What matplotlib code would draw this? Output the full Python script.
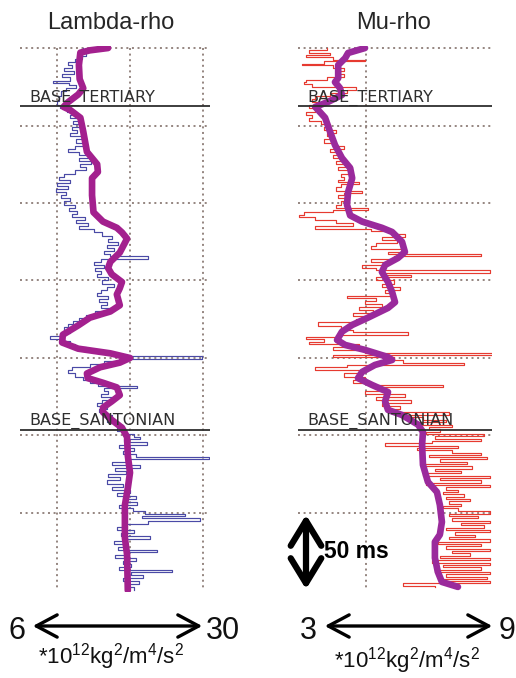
import matplotlib
matplotlib.use('Agg')
import matplotlib.pyplot as plt

plt.rcParams['font.family'] = ['Liberation Sans', 'DejaVu Sans']
plt.rcParams['mathtext.fontset'] = 'custom'
plt.rcParams['mathtext.rm'] = 'Liberation Sans'
plt.rcParams['mathtext.it'] = 'Liberation Sans:italic'

# two-way time below the top of the window, ms
grid_t = [0, 50, 100, 150, 200, 250, 300]
t_end = 350
tops_name = ['BASE_TERTIARY', 'BASE_SANTONIAN']
tops_t = [37.5, 246.5]

# Lambda-rho, *10^12 kg2/m4/s2
lam_grid = [10, 20, 30]
lam_smooth_t = [0, 1.5, 3, 11, 20, 26, 30, 35, 38, 40, 45, 54, 67, 75, 80, 84, 95, 106,
                112, 116, 119, 123, 132, 138, 142, 146, 151, 155, 159, 166, 170, 174, 179,
                185, 190, 194, 197, 200, 203, 206, 210, 213, 216, 219, 224, 228, 232, 235,
                240, 245, 251, 263, 274, 284, 295, 316, 327, 350]
lam_smooth_v = [17.0, 14.5, 13.2, 13.0, 13.1, 13.6, 12.9, 11.5, 10.9, 11.8, 13.2, 13.6,
                14.1, 15.5, 15.6, 14.8, 14.8, 15.0, 16.3, 18.2, 18.9, 19.6, 18.6, 17.3,
                17.0, 17.5, 18.9, 18.6, 18.2, 18.6, 17.3, 14.5, 12.9, 10.8, 10.7, 12.9,
                17.3, 20.0, 18.6, 15.9, 14.1, 14.2, 16.3, 18.2, 18.6, 17.5, 16.3, 16.3,
                17.5, 18.9, 19.6, 19.7, 20.0, 19.7, 19.3, 19.3, 19.6, 19.7]
lam_raw_t = [0, 3, 5, 7, 9, 11, 13, 15, 17, 19, 21, 22.5, 24, 26, 28, 31, 34, 37, 39, 41,
             43, 45, 47, 49, 51, 53, 55, 57, 59, 61, 63, 65, 67, 69, 71, 73, 75, 77, 79,
             81, 83, 85, 87, 89, 91, 93, 95, 97, 99, 101, 103, 105, 107, 109, 111, 113,
             115, 117, 119, 121, 123, 125, 127, 129, 131, 133, 134.5, 136, 138, 140, 142,
             144, 146, 148, 150, 152, 154, 156, 158, 160, 162, 164, 166, 168, 170, 172,
             174, 176, 178, 180, 182, 184, 186, 187.5, 189, 191, 193, 195, 197, 199,
             200.5, 202, 204, 206, 208, 210, 212, 214, 216, 218, 219.5, 221, 223, 225,
             227, 229, 231, 233, 235, 237, 239, 241, 243, 245, 247, 249, 251, 252.5, 254,
             256, 258, 260, 262, 264, 265.5, 267, 269, 271, 273, 275, 277, 279, 281, 283,
             285, 287, 289, 291, 293, 295, 297, 299, 300.5, 302, 303.5, 305, 307, 309,
             311, 313, 315, 316.5, 318, 320, 322, 324, 325.5, 327, 329, 331, 333, 335,
             336.5, 338, 340, 342, 344, 346, 348, 350]
lam_raw_v = [13.6, 14.0, 13.4, 12.4, 11.5, 12.0, 11.0, 12.3, 10.7, 11.8, 9.5, 11.6, 12.6,
             11.2, 10.6, 10.3, 10.0, 10.4, 11.4, 12.5, 11.8, 13.0, 12.2, 13.4, 12.0, 12.8,
             11.8, 13.4, 12.6, 13.8, 12.4, 11.5, 13.0, 14.2, 13.0, 14.6, 13.2, 14.0, 12.5,
             11.0, 10.3, 11.8, 10.0, 11.5, 9.8, 11.2, 10.5, 11.8, 11.0, 12.5, 11.6, 12.8,
             12.0, 13.8, 12.6, 14.2, 13.0, 15.0, 16.2, 17.5, 17.0, 18.4, 16.8, 17.8, 16.4,
             17.2, 22.5, 16.0, 15.0, 16.5, 15.2, 16.0, 15.5, 17.0, 16.2, 17.8, 16.8, 16.0,
             15.5, 17.0, 15.8, 16.8, 16.0, 17.4, 15.2, 14.0, 13.0, 12.2, 11.5, 11.0, 11.8,
             10.6, 9.0, 11.0, 11.8, 12.5, 14.0, 15.5, 18.0, 29.9, 18.5, 16.5, 14.5, 12.0,
             11.5, 12.4, 13.5, 14.5, 15.6, 21.0, 16.5, 17.0, 16.0, 17.5, 16.2, 15.5, 16.8,
             15.8, 16.5, 17.5, 16.8, 18.5, 19.0, 18.2, 19.5, 20.5, 21.4, 19.2, 22.3, 18.5,
             20.5, 19.0, 20.8, 30.8, 19.5, 17.5, 21.4, 18.0, 19.4, 17.0, 18.6, 16.8, 19.0,
             17.6, 20.0, 18.2, 20.8, 19.2, 21.0, 18.5, 20.4, 22.0, 27.5, 21.6, 29.6, 22.5,
             19.5, 18.2, 20.5, 18.8, 22.7, 19.0, 17.8, 19.6, 18.4, 23.7, 19.5, 18.0, 20.8,
             19.0, 20.2, 18.5, 25.8, 20.2, 21.8, 19.0, 21.2, 19.8, 20.5, 20.5]

# Mu-rho, *10^12 kg2/m4/s2
mu_grid = [4.65]
mu_smooth_t = [0, 3.2, 6.5, 11, 19.4, 22, 25.8, 30.3, 34.8, 38, 40, 45, 54, 62.6, 71,
               77.4, 84, 93, 101, 108, 112, 116, 118.7, 125, 131.6, 135.5, 140, 144.5,
               151, 157.4, 164, 167.7, 174, 178.7, 183, 188.4, 191.6, 194.8, 199.4, 201.3,
               204.5, 209, 213, 217.4, 222, 228, 233.5, 236.8, 243, 247.7, 256, 269, 280,
               286.5, 294.8, 305.8, 314, 318.7, 329, 338, 344.5, 347.7]
mu_smooth_v = [4.61, 4.03, 3.93, 3.69, 3.69, 3.58, 3.75, 3.82, 3.34, 2.90, 3.0, 3.24,
               3.41, 3.58, 3.82, 4.10, 4.17, 4.03, 3.99, 4.10, 4.51, 5.19, 5.54, 5.88,
               5.98, 5.74, 5.30, 5.19, 5.40, 5.54, 5.64, 5.40, 4.71, 4.17, 3.82, 3.65,
               3.93, 4.61, 5.40, 5.54, 4.95, 4.51, 4.37, 4.85, 5.40, 5.30, 5.40, 5.88,
               6.43, 6.60, 6.57, 6.60, 6.77, 7.08, 7.18, 7.25, 7.18, 7.01, 7.01, 7.11,
               7.25, 7.80]
mu_raw_t = [0, 1.5, 3, 4.5, 6, 7.5, 8.5, 10, 11, 13, 15, 17, 19, 20.5, 22, 23.5, 25, 27,
            29, 31, 33, 35, 37, 39, 41, 43, 45, 47, 49, 51, 53, 55, 57, 59, 61, 63, 65,
            67, 69, 71, 73, 75, 77, 79, 81, 83, 85, 86.5, 88, 90, 92, 93.5, 95, 97, 99,
            101, 103, 104.5, 106, 107.5, 109, 111, 113, 115, 116.5, 118, 120, 122, 124,
            126, 128, 130, 131.5, 133, 134.5, 136, 138, 140, 142, 143.5, 145, 146.5, 148,
            150, 152, 154, 156, 158, 160, 161.5, 163, 165, 167, 169, 171, 173, 175, 177,
            179.5, 182, 183.5, 185, 186.5, 188, 189.5, 191, 193, 195, 196.5, 198, 199.5,
            201.5, 203, 204.5, 206, 208, 210, 212, 214, 216, 217.5, 219, 221, 223, 225,
            227, 229, 231, 233, 235, 236.5, 238, 240, 241.5, 243, 244.5, 246, 247.5, 249,
            250.5, 252, 253.5, 255, 256.5, 258, 259.5, 261, 262.5, 264, 265.5, 267, 268.5,
            270, 271.5, 273, 274.5, 276, 277.5, 279, 280.5, 282, 283.5, 285, 286.5, 288,
            289.5, 291, 292.5, 294, 295.5, 297, 299, 300.5, 302, 303.5, 305, 306.5, 308,
            309.5, 311, 312.5, 314, 315.5, 317, 318.5, 320, 321.5, 323, 324.5, 326, 327.5,
            329, 330.5, 332, 333.5, 335, 336.5, 338, 339.5, 341, 342.5, 344, 345.5, 347,
            348]
mu_raw_v = [3.3, 2.7, 3.4, 2.6, 3.5, 4.6, 3.2, 2.45, 3.5, 3.9, 3.6, 3.9, 3.3, 2.6, 2.5,
            2.8, 4.3, 4.0, 3.4, 2.9, 2.8, 3.0, 2.7, 2.9, 2.6, 2.8, 2.7, 3.1, 3.4, 3.2, 3.6,
            3.3, 3.5, 3.2, 3.6, 3.9, 3.4, 3.8, 3.5, 3.9, 3.6, 4.0, 3.7, 4.1, 3.8, 3.9, 3.7,
            4.4, 3.8, 3.6, 4.5, 3.9, 3.7, 4.0, 3.8, 3.6, 4.7, 3.5, 2.5, 2.35, 2.9, 3.6,
            4.2, 2.9, 4.8, 5.5, 6.0, 5.2, 5.7, 5.0, 4.8, 6.0, 5.4, 8.6, 5.6, 4.8, 5.3, 4.5,
            5.0, 8.9, 5.3, 6.2, 5.0, 5.6, 5.2, 5.8, 5.3, 5.5, 4.0, 5.0, 4.6, 5.2, 4.4, 4.9,
            4.2, 4.6, 4.3, 3.0, 3.8, 4.2, 6.1, 3.6, 2.6, 3.2, 2.7, 4.4, 3.5, 4.6, 9.0, 3.5,
            5.6, 5.9, 8.0, 4.0, 2.9, 4.4, 3.9, 4.6, 4.2, 4.8, 7.3, 5.2, 4.6, 6.0, 5.0, 6.2,
            5.2, 5.8, 5.4, 7.5, 6.0, 6.6, 7.4, 6.4, 7.6, 6.8, 7.2, 6.7, 8.7, 7.0, 8.6, 6.9,
            5.3, 7.8, 6.4, 7.6, 8.6, 6.8, 8.8, 7.2, 8.1, 6.6, 8.3, 7.0, 7.9, 6.6, 8.9, 7.2,
            8.6, 6.7, 8.9, 7.4, 7.8, 7.3, 8.0, 7.4, 8.2, 7.5, 7.9, 7.3, 7.8, 8.9, 7.5, 8.5,
            7.6, 8.9, 7.9, 8.7, 7.4, 8.9, 7.7, 8.4, 7.5, 8.9, 7.1, 8.6, 7.4, 8.9, 7.6, 8.2,
            7.2, 8.9, 6.9, 8.9, 7.3, 8.6, 7.0, 8.9, 7.4, 8.8, 7.2, 8.9, 5.9, 7.0, 7.0]

W, H = 516, 678
fig = plt.figure(figsize=(W / 100, H / 100), dpi=100)


def px_axes(x0, x1, y0, y1):
    return fig.add_axes([x0 / W, 1 - y1 / H, (x1 - x0) / W, (y1 - y0) / H])


def fx(x):
    return x / W


def fy(y):
    return 1 - y / H


grid_c = '#8c7c76'
dot = (0, (1.1, 2.0))


def draw_log(ax, xlim, vgrid, raw_t, raw_v, sm_t, sm_v, raw_c, sm_c):
    ax.set_xlim(*xlim)
    ax.set_ylim(351, -1.3)
    ax.axis('off')
    for t in grid_t:
        ax.axhline(t, color=grid_c, ls=dot, lw=1.3, zorder=1)
    ax.vlines(vgrid, 0, t_end, color=grid_c, ls=dot, lw=1.3, zorder=1)
    ax.plot(raw_v, raw_t, drawstyle='steps-pre', color=raw_c, lw=0.85, zorder=2)
    ax.plot(sm_v, sm_t, color=sm_c, lw=4.8, solid_joinstyle='round',
            solid_capstyle='round', zorder=3)
    tr = ax.get_yaxis_transform()
    for name, t in zip(tops_name, tops_t):
        ax.axhline(t, color='#2e2e2e', lw=1.3, zorder=4)
        ax.text(0.05, t - 0.4, name, transform=tr, ha='left', va='bottom',
                fontsize=11.5, family='DejaVu Sans', color='#2e2e2e', zorder=5)


ax_l = px_axes(20, 210, 46, 592)
draw_log(ax_l, (4.93, 30.96), lam_grid, lam_raw_t, lam_raw_v,
         lam_smooth_t, lam_smooth_v, '#4a4aa6', '#a3208e')

ax_r = px_axes(298, 492, 46, 592)
draw_log(ax_r, (2.31, 8.97), mu_grid, mu_raw_t, mu_raw_v,
         mu_smooth_t, mu_smooth_v, '#e63a30', '#9a2a9c')

# titles
fig.text(fx(111), fy(23), 'Lambda-rho', ha='center', va='center', fontsize=17, color='#262626')
fig.text(fx(393), fy(23), 'Mu-rho', ha='center', va='center', fontsize=17, color='#262626')


# scale arrows under the logs
def scale_arrow(x0, x1, y, lo, hi, lo_x, hi_x, unit_x, unit_y):
    fig.add_artist(matplotlib.patches.FancyArrowPatch(
        (fx(x0), fy(y)), (fx(x1), fy(y)), transform=fig.transFigure,
        arrowstyle='<->,head_length=0.75,head_width=0.4', mutation_scale=20,
        lw=2.4, color='black'))
    fig.text(fx(lo_x), fy(y + 5), lo, ha='center', va='center', fontsize=22,
             color='#111111')
    fig.text(fx(hi_x), fy(y + 5), hi, ha='center', va='center', fontsize=22,
             color='#111111')
    fig.text(fx(unit_x), fy(unit_y), r'$\mathrm{*10^{12}kg^{2}/m^{4}/s^{2}}$',
             ha='center', va='baseline', fontsize=16, color='#111111')


scale_arrow(30, 205, 626, '6', '30', 17, 223, 111, 663)
scale_arrow(322, 495, 626, '3', '9', 308, 507, 407, 667)

# 50 ms time scale
fig.add_artist(matplotlib.patches.FancyArrowPatch(
    (fx(306), fy(512)), (fx(306), fy(592)), transform=fig.transFigure,
    arrowstyle='<->,head_length=0.9,head_width=0.55', mutation_scale=20,
    lw=4.5, color='black'))
fig.text(fx(324), fy(552), '50 ms', ha='left', va='center', fontsize=16.5,
         fontweight='bold', color='black')

fig.savefig('out.png', dpi=100)
